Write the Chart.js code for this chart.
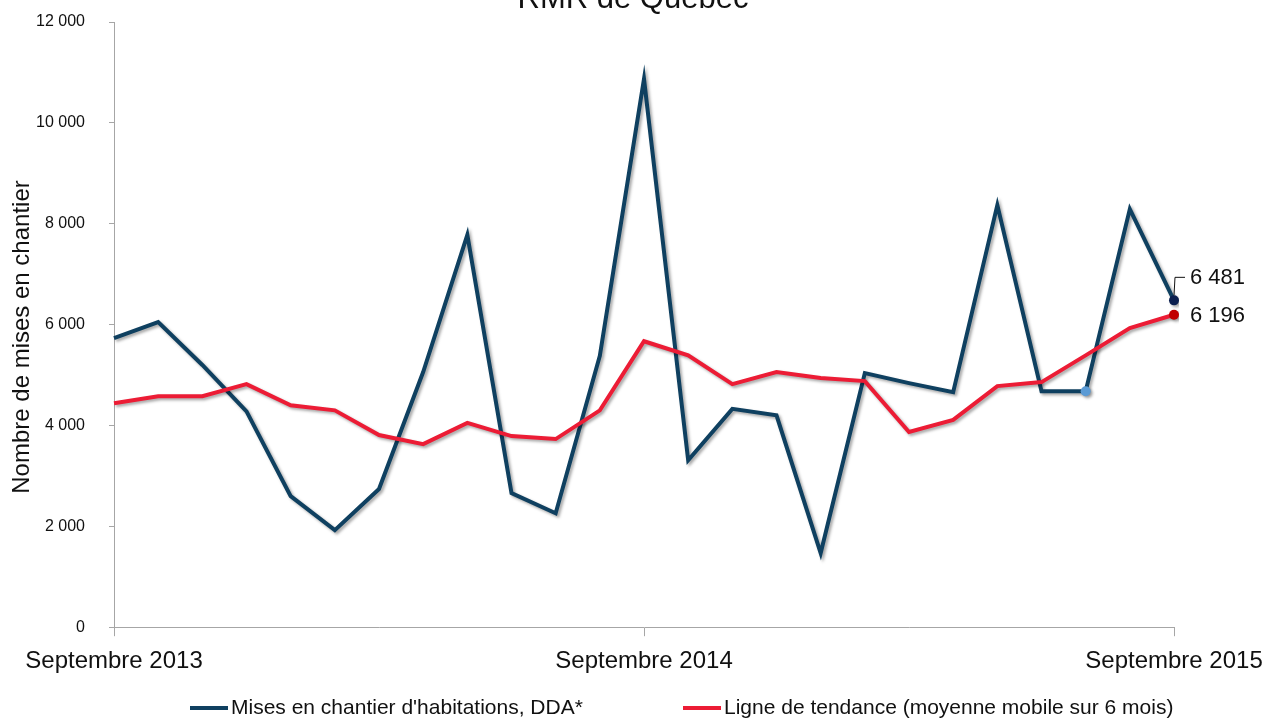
<!DOCTYPE html>
<html lang="fr">
<head>
<meta charset="utf-8">
<script src="https://cdn.jsdelivr.net/npm/chart.js@4"></script>
<style>
  html, body { margin:0; padding:0; background:#fff; }
  #wrap { width:1268px; height:721px; position:relative; }
</style>
</head>
<body>
<div id="wrap"><canvas id="chart"></canvas></div>
<script>
// données (sept. 2013 à sept. 2015)
const months = [
  'Septembre 2013','Octobre 2013','Novembre 2013','Décembre 2013','Janvier 2014','Février 2014',
  'Mars 2014','Avril 2014','Mai 2014','Juin 2014','Juillet 2014','Août 2014',
  'Septembre 2014','Octobre 2014','Novembre 2014','Décembre 2014','Janvier 2015','Février 2015',
  'Mars 2015','Avril 2015','Mai 2015','Juin 2015','Juillet 2015','Août 2015','Septembre 2015'
];
const mises = [5730, 6050, 5200, 4280, 2600, 1925, 2740, 5060, 7780, 2660, 2260, 5380,
               10870, 3310, 4330, 4200, 1470, 5040, 4840, 4660, 8370, 4680, 4680, 8290, 6481];
const tendance = [4440, 4580, 4580, 4820, 4400, 4300, 3810, 3630, 4050, 3790, 3730, 4300,
                  5670, 5390, 4820, 5060, 4940, 4880, 3870, 4110, 4780, 4860, 5390, 5930, 6196];
const shownLabels = [0, 12, 24];
const yTicks = [0, 2000, 4000, 6000, 8000, 10000, 12000];

const BLUE = '#0f4060';
const RED = '#ec1c35';
const FONT = 'Liberation Sans, Arial, sans-serif';

const fmt = (v) => String(v).replace(/\B(?=(\d{3})+(?!\d))/g, ' ');

// ombre légère sous les courbes
const shadowPlugin = {
  id:'shadow',
  beforeDatasetDraw(chart){
    const c = chart.ctx;
    c.save();
    c.shadowColor = 'rgba(0,0,0,0.35)';
    c.shadowBlur = 3;
    c.shadowOffsetX = 2;
    c.shadowOffsetY = 2;
  },
  afterDatasetDraw(chart){ chart.ctx.restore(); }
};

// titre coupé en haut, titre d'axe, légende et étiquettes des dernières valeurs
const extrasPlugin = {
  id:'extras',
  afterDraw(chart){
    const c = chart.ctx;
    c.save();
    c.fillStyle = '#111';
    c.font = '31px ' + FONT;
    c.textAlign = 'center';
    c.textBaseline = 'alphabetic';
    c.fillText('RMR de Québec', 633, 8);

    // titre de l'axe vertical
    c.save();
    c.translate(22, 337);
    c.rotate(-Math.PI / 2);
    c.font = '24px ' + FONT;
    c.textBaseline = 'middle';
    c.fillText('Nombre de mises en chantier', 0, 0);
    c.restore();

    // légende
    c.font = '21px ' + FONT;
    c.textAlign = 'left';
    c.textBaseline = 'middle';
    const legY = 708;
    const items = [[190, 0], [683, 1]];
    items.forEach(([x, i]) => {
      const ds = chart.data.datasets[i];
      c.fillStyle = ds.borderColor;
      c.fillRect(x, legY - 2, 38, 4);
      c.fillStyle = '#111';
      c.fillText(ds.label, x + 41, legY);
    });

    const last = mises.length - 1;
    const pB = chart.getDatasetMeta(0).data[last];
    const pR = chart.getDatasetMeta(1).data[last];
    c.font = '22px ' + FONT;
    c.fillText(fmt(mises[last]), pB.x + 16, pB.y - 22);
    c.fillText(fmt(tendance[last]), pR.x + 16, pR.y + 1);
    c.strokeStyle = '#111';
    c.lineWidth = 1;
    c.beginPath();
    c.moveTo(pB.x, pB.y - 5);
    c.lineTo(pB.x + 1, pB.y - 23);
    c.lineTo(pB.x + 11, pB.y - 23);
    c.stroke();
    c.restore();
  }
};

const ctx = document.getElementById('chart').getContext('2d');
new Chart(ctx, {
  type:'line',
  data:{
    labels: months,
    datasets:[
      {
        label:"Mises en chantier d'habitations, DDA*",
        data: mises,
        borderColor: BLUE,
        backgroundColor: BLUE,
        borderWidth: 4,
        tension: 0,
        order: 1,
        pointRadius: (c) => (c.dataIndex === 22 || c.dataIndex === 24) ? 5 : 0,
        pointBackgroundColor: (c) => c.dataIndex === 22 ? '#5b9bd5' : '#0b1f4f',
        pointBorderWidth: 0
      },
      {
        label:'Ligne de tendance (moyenne mobile sur 6 mois)',
        data: tendance,
        borderColor: RED,
        backgroundColor: RED,
        borderWidth: 4,
        tension: 0,
        order: 0,
        pointRadius: (c) => c.dataIndex === 24 ? 5 : 0,
        pointBackgroundColor: '#c00000',
        pointBorderWidth: 0
      }
    ]
  },
  options:{
    responsive:true,
    maintainAspectRatio:false,
    animation:false,
    layout:{ padding:{ top:0, right:0, left:0, bottom:34 } },
    plugins:{
      title:{ display:false },
      tooltip:{ enabled:false },
      legend:{ display:false }
    },
    scales:{
      x:{
        type:'category',
        offset:false,
        afterFit:(axis) => { axis.paddingLeft = 0; axis.paddingRight = 94; },
        border:{ color:'#a6a6a6', width:1 },
        grid:{
          drawOnChartArea:false, drawTicks:true, tickLength:9,
          color:(c) => shownLabels.includes(c.index) ? '#a6a6a6' : 'transparent'
        },
        ticks:{
          autoSkip:false, maxRotation:0, padding:11,
          color:'#111', font:{ family:FONT, size:24 },
          callback:(v, i) => shownLabels.includes(i) ? months[i] : ''
        }
      },
      y:{
        min:0, max:12000,
        afterBuildTicks:(axis) => { axis.ticks = yTicks.map(v => ({ value:v })); },
        afterFit:(axis) => { axis.width = 114; axis.paddingTop = 22; axis.paddingBottom = 0; },
        border:{ color:'#a6a6a6', width:1 },
        grid:{ drawOnChartArea:false, drawTicks:true, tickLength:5, color:'#a6a6a6' },
        ticks:{
          padding:24, color:'#111', font:{ family:FONT, size:16 },
          callback:(v) => fmt(v)
        },
        title:{ display:false }
      }
    }
  },
  plugins:[shadowPlugin, extrasPlugin]
});
</script>
</body>
</html>
